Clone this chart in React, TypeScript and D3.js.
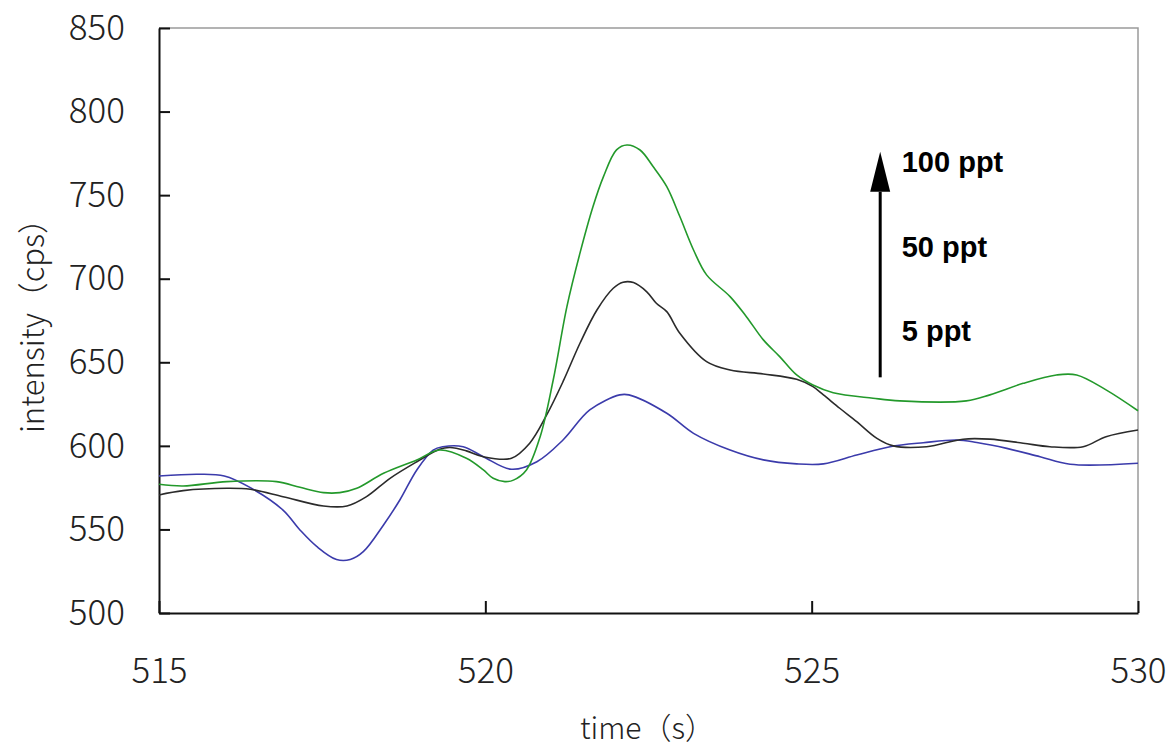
import React, { useEffect, useRef } from 'react';
import * as d3 from 'd3';

interface Point {
  t: number;
  v: number;
}

// 5 ppt run (blue)
const time5 = [
  515.0, 515.6, 516.0, 516.4, 516.9, 517.16, 517.42, 517.72, 517.93, 518.13,
  518.44, 518.69, 518.95, 519.2, 519.35, 519.66, 519.97, 520.4, 520.79,
  521.19, 521.6, 522.06, 522.2, 522.78, 523.19, 523.75, 524.26, 524.77,
  525.18, 525.69, 526.2, 526.71, 527.22, 527.53, 527.99, 528.5, 528.96, 530.0,
];
const intensity5 = [
  582, 583, 582, 575, 561.6, 549.7, 539.7, 532, 532, 536.7, 552.7, 567.6,
  585.6, 597.5, 599.5, 599.5, 593.5, 586, 590.5, 603.5, 621.5, 630.5, 630.5,
  619.5, 607.5, 597.5, 591.6, 589.2, 589.2, 594.5, 599.5, 601.9, 603.5, 602,
  598.5, 593.5, 589, 589.6,
];

// 50 ppt run (black)
const time50 = [
  515.0, 515.37, 516.04, 516.4, 516.9, 517.52, 517.88, 518.18, 518.54,
  518.95, 519.3, 519.46, 519.71, 519.97, 520.4, 520.68, 520.94, 521.19,
  521.45, 521.71, 521.96, 522.11, 522.27, 522.47, 522.62, 522.78, 522.98,
  523.39, 523.75, 524.26, 524.77, 525.02, 525.18, 525.43, 525.69, 526.0,
  526.25, 526.76, 527.32, 527.73, 528.24, 528.65, 529.16, 529.51, 530.0,
];
const intensity50 = [
  570.6, 573.2, 574.6, 574, 569.6, 564, 564, 569.6, 580.6, 590.5, 598, 599,
  597, 593.5, 592.6, 601.6, 618.5, 638.4, 661.4, 681.3, 694.3, 697.9, 697.7,
  692.3, 685.3, 680.3, 667.4, 650.4, 645.4, 643, 639.8, 635.4, 630.5, 622.5,
  614.5, 604.5, 600, 599.5, 604, 604, 601.6, 599.5, 599.5, 605.5, 609.5,
];

// 100 ppt run (green)
const time100 = [
  515.0, 515.37, 516.04, 516.8, 517.16, 517.52, 517.77, 518.03, 518.44,
  518.95, 519.3, 519.71, 519.97, 520.12, 520.3, 520.43, 520.63, 520.84,
  521.04, 521.25, 521.45, 521.65, 521.81, 522.01, 522.17, 522.37, 522.57,
  522.78, 522.98, 523.19, 523.39, 523.75, 524.0, 524.26, 524.51, 524.77,
  525.02, 525.33, 525.94, 526.35, 527.37, 527.73, 528.24, 528.75, 529.06,
  529.51, 530.0,
];
const intensity100 = [
  577, 576, 578.6, 578.6, 575.2, 572, 572, 574.6, 583.6, 591.6, 597.5, 592.6,
  585.6, 580.6, 578.6, 579.5, 585.6, 605.5, 639.4, 683.3, 715.3, 743.2, 761.1,
  777.1, 780, 777, 767.1, 755.1, 737.2, 717.2, 702.3, 689.3, 677.3, 663.4,
  653.4, 642.4, 636.4, 631.8, 628.5, 626.9, 626.9, 630.5, 637.4, 642.4, 642.4,
  633.5, 621,
];

const xTicks = [515, 520, 525, 530];
const yTicks = [500, 550, 600, 650, 700, 750, 800, 850];
const concLabels = ['100 ppt', '50 ppt', '5 ppt'];
const concLabelLevels = [770, 719, 669];

const series = [
  { name: '5 ppt', color: '#3b3bab', data: time5.map((t, i) => ({ t, v: intensity5[i] })) },
  { name: '50 ppt', color: '#2b2b2b', data: time50.map((t, i) => ({ t, v: intensity50[i] })) },
  { name: '100 ppt', color: '#23992b', data: time100.map((t, i) => ({ t, v: intensity100[i] })) },
];

const W = 1172;
const H = 749;
const margin = { top: 28, right: 34, bottom: 136, left: 159 };
const font = '"Noto Sans CJK JP", "Liberation Sans", sans-serif';

const App: React.FC = () => {
  const chartRef = useRef<SVGSVGElement | null>(null);

  useEffect(() => {
    const width = W - margin.left - margin.right;
    const height = H - margin.top - margin.bottom;

    d3.select(chartRef.current).selectAll('*').remove();

    const svg = d3
      .select(chartRef.current)
      .attr('width', W)
      .attr('height', H)
      .append('g')
      .attr('transform', `translate(${margin.left},${margin.top})`);

    const x = d3.scaleLinear().domain([515, 530]).range([0, width]);
    const y = d3.scaleLinear().domain([500, 850]).range([height, 0]);

    // grey top and right frame
    svg
      .append('path')
      .attr('d', `M0,0H${width}V${height}`)
      .attr('fill', 'none')
      .attr('stroke', '#9a9a9a')
      .attr('stroke-width', 1.5);

    const yAxis = svg
      .append('g')
      .call(
        d3
          .axisLeft(y)
          .tickValues(yTicks)
          .tickSizeInner(-11)
          .tickSizeOuter(0)
          .tickPadding(34)
      );

    const xAxis = svg
      .append('g')
      .attr('transform', `translate(0,${height})`)
      .call(
        d3
          .axisBottom(x)
          .tickValues(xTicks)
          .tickSizeInner(-12)
          .tickSizeOuter(0)
          .tickPadding(45)
      );

    [xAxis, yAxis].forEach((g) => {
      g.select('.domain').attr('stroke', '#111').attr('stroke-width', 2);
      g.selectAll('.tick line').attr('stroke', '#111').attr('stroke-width', 2);
      g.selectAll('.tick text')
        .attr('fill', '#222')
        .style('font-family', font)
        .style('font-weight', 300)
        .style('font-size', '35px');
    });

    const line = d3
      .line<Point>()
      .x((d) => x(d.t))
      .y((d) => y(d.v))
      .curve(d3.curveCatmullRom.alpha(0.5));

    series.forEach((s) => {
      svg
        .append('path')
        .datum(s.data)
        .attr('fill', 'none')
        .attr('stroke', s.color)
        .attr('stroke-width', 1.6)
        .attr('d', line);
    });

    // concentration arrow
    const ax = x(526.05);
    svg
      .append('line')
      .attr('x1', ax)
      .attr('x2', ax)
      .attr('y1', y(641))
      .attr('y2', y(752))
      .attr('stroke', '#000')
      .attr('stroke-width', 3);
    svg
      .append('path')
      .attr('d', `M${ax - 10},${y(752)}L${ax},${y(776)}L${ax + 10},${y(752)}Z`)
      .attr('fill', '#000');

    svg
      .selectAll('.conc')
      .data(concLabels)
      .enter()
      .append('text')
      .attr('x', x(526.38))
      .attr('y', (d, i) => y(concLabelLevels[i]))
      .attr('dy', '0.36em')
      .attr('fill', '#000')
      .style('font-family', '"Liberation Sans", Arial, sans-serif')
      .style('font-weight', 'bold')
      .style('font-size', '29px')
      .text((d) => d);

    // axis titles
    svg
      .append('text')
      .attr('transform', `translate(${33 - margin.left},${318 - margin.top}) rotate(-90)`)
      .attr('text-anchor', 'middle')
      .attr('dy', '0.35em')
      .attr('fill', '#222')
      .style('font-family', font)
      .style('font-weight', 300)
      .style('font-size', '31px')
      .text('intensity（cps）');

    svg
      .append('text')
      .attr('x', width / 2 - 1)
      .attr('y', 728 - margin.top)
      .attr('text-anchor', 'middle')
      .attr('dy', '0.35em')
      .attr('fill', '#222')
      .style('font-family', font)
      .style('font-weight', 300)
      .style('font-size', '30px')
      .text('time（s）');
  }, []);

  return (
    <svg
      ref={chartRef}
      style={{ position: 'absolute', left: 0, top: 0, background: '#fff' }}
    ></svg>
  );
};

export default App;
